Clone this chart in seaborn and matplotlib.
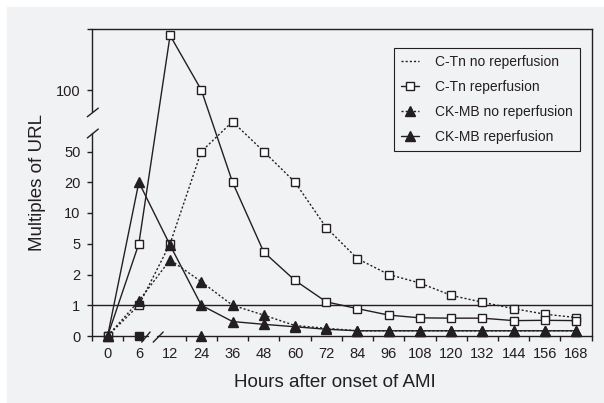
import numpy as np
import matplotlib
matplotlib.use("Agg")
from matplotlib import pyplot as plt
from matplotlib.lines import Line2D
from matplotlib.patches import Rectangle
import seaborn as sns

# values (multiples of URL)
hours = [0, 6, 12, 24, 36, 48, 60, 72, 84, 96, 108, 120, 132, 144, 156, 168]
ctn_no_reperf = [0, 1.0, 5, 50, 70, 50, 20, 7.2, 3.2, 2.0, 1.65, 1.25, 1.07, 0.89, 0.71, 0.6]
ctn_reperf = [0, 5, 185, 100, 20, 3.9, 1.75, 1.08, 0.89, 0.68, 0.59, 0.58, 0.58, 0.5, 0.51, 0.5]
ckmb_no_reperf = [0, 1.1, 3.1, 1.7, 1.0, 0.68, 0.34, 0.25, 0.17, 0.17, 0.17, 0.17, 0.17, 0.17, 0.17, 0.17]
ckmb_reperf = [0, 20, 4.8, 1.0, 0.47, 0.38, 0.3, 0.22, 0.17, 0.17, 0.17, 0.17, 0.17, 0.17, 0.17, 0.17]
extra_hours = [6, 24]
extra_values = [0, 0]
extra_markers = ["s", "^"]

labels = ["C-Tn no reperfusion", "C-Tn reperfusion", "CK-MB no reperfusion", "CK-MB reperfusion"]
y_ticks = [0, 1, 2, 5, 10, 20, 50, 100, 200]
y_tick_labels = ["0", "1", "2", "5", "10", "20", "50", "100", ""]
y_tick_slots = [0, 1, 2, 3, 4, 5, 6, 8, 10]  # evenly spaced ticks, one slot skipped for the break

INK = "#231f20"
BG = "#f1f2f4"
DOTTED = (0, (1.5, 1.5))


def extrap_interp(v, xp, fp):
    v = np.asarray(v, dtype=float)
    out = np.interp(v, xp, fp)
    lo = (fp[1] - fp[0]) / (xp[1] - xp[0])
    hi = (fp[-1] - fp[-2]) / (xp[-1] - xp[-2])
    out = np.where(v < xp[0], fp[0] + (v - xp[0]) * lo, out)
    out = np.where(v > xp[-1], fp[-1] + (v - xp[-1]) * hi, out)
    return out


x_slots = np.arange(len(hours))
log_ticks = np.log10(y_ticks[1:])


def hours_fwd(h):
    return extrap_interp(h, hours, x_slots)


def hours_inv(p):
    return extrap_interp(p, x_slots, hours)


def url_fwd(v):
    v = np.asarray(v, dtype=float)
    lv = np.log10(np.clip(v, 1, None))
    return np.where(v <= 1, v, extrap_interp(lv, log_ticks, y_tick_slots[1:]))


def url_inv(p):
    p = np.asarray(p, dtype=float)
    lp = extrap_interp(np.clip(p, 1, 20), y_tick_slots[1:], log_ticks)
    return np.where(p <= 1, p, 10 ** lp)


sns.set_theme(style="ticks")
plt.rcParams["font.family"] = ["Liberation Sans", "DejaVu Sans"]
plt.rcParams["text.color"] = INK
plt.rcParams["axes.labelcolor"] = INK
plt.rcParams["xtick.color"] = INK
plt.rcParams["ytick.color"] = INK

fig = plt.figure(figsize=(6.04, 4.03), dpi=100)
fig.patches.append(Rectangle((7 / 604, 0), 1, 396 / 403, transform=fig.transFigure,
                             color=BG, zorder=-10))
ax = fig.add_axes([92 / 604, 67 / 403, 499.7 / 604, 307.5 / 403])
ax.set_facecolor(BG)
ax.set_xscale("function", functions=(hours_fwd, hours_inv))
ax.set_yscale("function", functions=(url_fwd, url_inv))

ax.axhline(1, color=INK, lw=1, zorder=2)

series = [
    (ctn_no_reperf, "s", "white", DOTTED, 5.5),
    (ctn_reperf, "s", "white", "-", 5.5),
    (ckmb_no_reperf, "^", INK, DOTTED, 6.5),
    (ckmb_reperf, "^", INK, "-", 6.5),
]
for values, marker, face, ls, ms in series:
    sns.lineplot(x=hours, y=values, ax=ax, color=INK, linestyle=ls, linewidth=1,
                 marker=marker, markersize=ms, markerfacecolor=face,
                 markeredgecolor=INK, markeredgewidth=1, clip_on=False, zorder=3)

for h, v, m in zip(extra_hours, extra_values, extra_markers):
    ax.plot([h], [v], marker=m, ms=6.5 if m == "^" else 6, color=INK, ls="none",
            clip_on=False, zorder=4)

ax.set_xlim(-3, 174)
ax.set_ylim(0, 200)

# spines with breaks
ax.spines[["left", "bottom"]].set_visible(False)
for s in ["top", "right"]:
    ax.spines[s].set_color(INK)
    ax.spines[s].set_linewidth(1)

xt = ax.get_xaxis_transform()
yt = ax.get_yaxis_transform()
kw = dict(color=INK, lw=1, clip_on=False, zorder=5)
ax.plot(hours_inv([-0.5, 1.28]), [0, 0], transform=xt, **kw)
ax.plot(hours_inv([1.57, 15.5]), [0, 0], transform=xt, **kw)
ax.plot(hours_inv([1.09, 1.36]), [-0.02, 0.013], transform=xt, **kw)
ax.plot(hours_inv([1.46, 1.78]), [-0.02, 0.013], transform=xt, **kw)
ax.plot([0, 0], url_inv([0, 6.6]), transform=yt, **kw)
ax.plot([0, 0], url_inv([7.27, 10]), transform=yt, **kw)
ax.plot([-0.0094, 0.0126], url_inv([6.44, 6.73]), transform=yt, **kw)
ax.plot([-0.0094, 0.0126], url_inv([7.13, 7.41]), transform=yt, **kw)

ax.set_yticks(y_ticks, y_tick_labels)
ax.yaxis.set_minor_locator(matplotlib.ticker.NullLocator())
ax.set_xticks(hours, [str(h) for h in hours])
edges = [e for e in np.arange(-0.5, 15.6, 1.0) if abs(e - 1.5) > 0.1]
ax.set_xticks(hours_inv(edges), minor=True)
ax.tick_params(axis="x", which="major", length=0, pad=8, labelsize=10.5)
ax.tick_params(axis="x", which="minor", length=3.6, width=1, direction="out")
ax.tick_params(axis="y", which="major", length=3.4, width=1, direction="out", pad=5,
               labelsize=10.5)

ax.set_ylabel("Multiples of URL", fontsize=13.5, labelpad=7)
ax.set_xlabel("Hours after onset of AMI", fontsize=13.5)
ax.xaxis.set_label_coords(0.486, -0.125)

handles = [Line2D([], [], color=INK, ls=DOTTED, lw=1)]
for values, marker, face, ls, ms in series[1:]:
    handles.append(Line2D([], [], color=INK, ls=ls, lw=1, marker=marker, ms=ms,
                          mfc=face, mec=INK, mew=1))
leg = ax.legend(handles, labels, loc="upper right", bbox_to_anchor=(0.9766, 0.937),
                borderaxespad=0, fancybox=False, edgecolor=INK, facecolor=BG,
                framealpha=1, fontsize=10, handlelength=1.3, handletextpad=1.2,
                labelspacing=0.8, borderpad=0.5)
leg.get_frame().set_linewidth(0.8)

fig.savefig("out.png", dpi=100, facecolor="white")
